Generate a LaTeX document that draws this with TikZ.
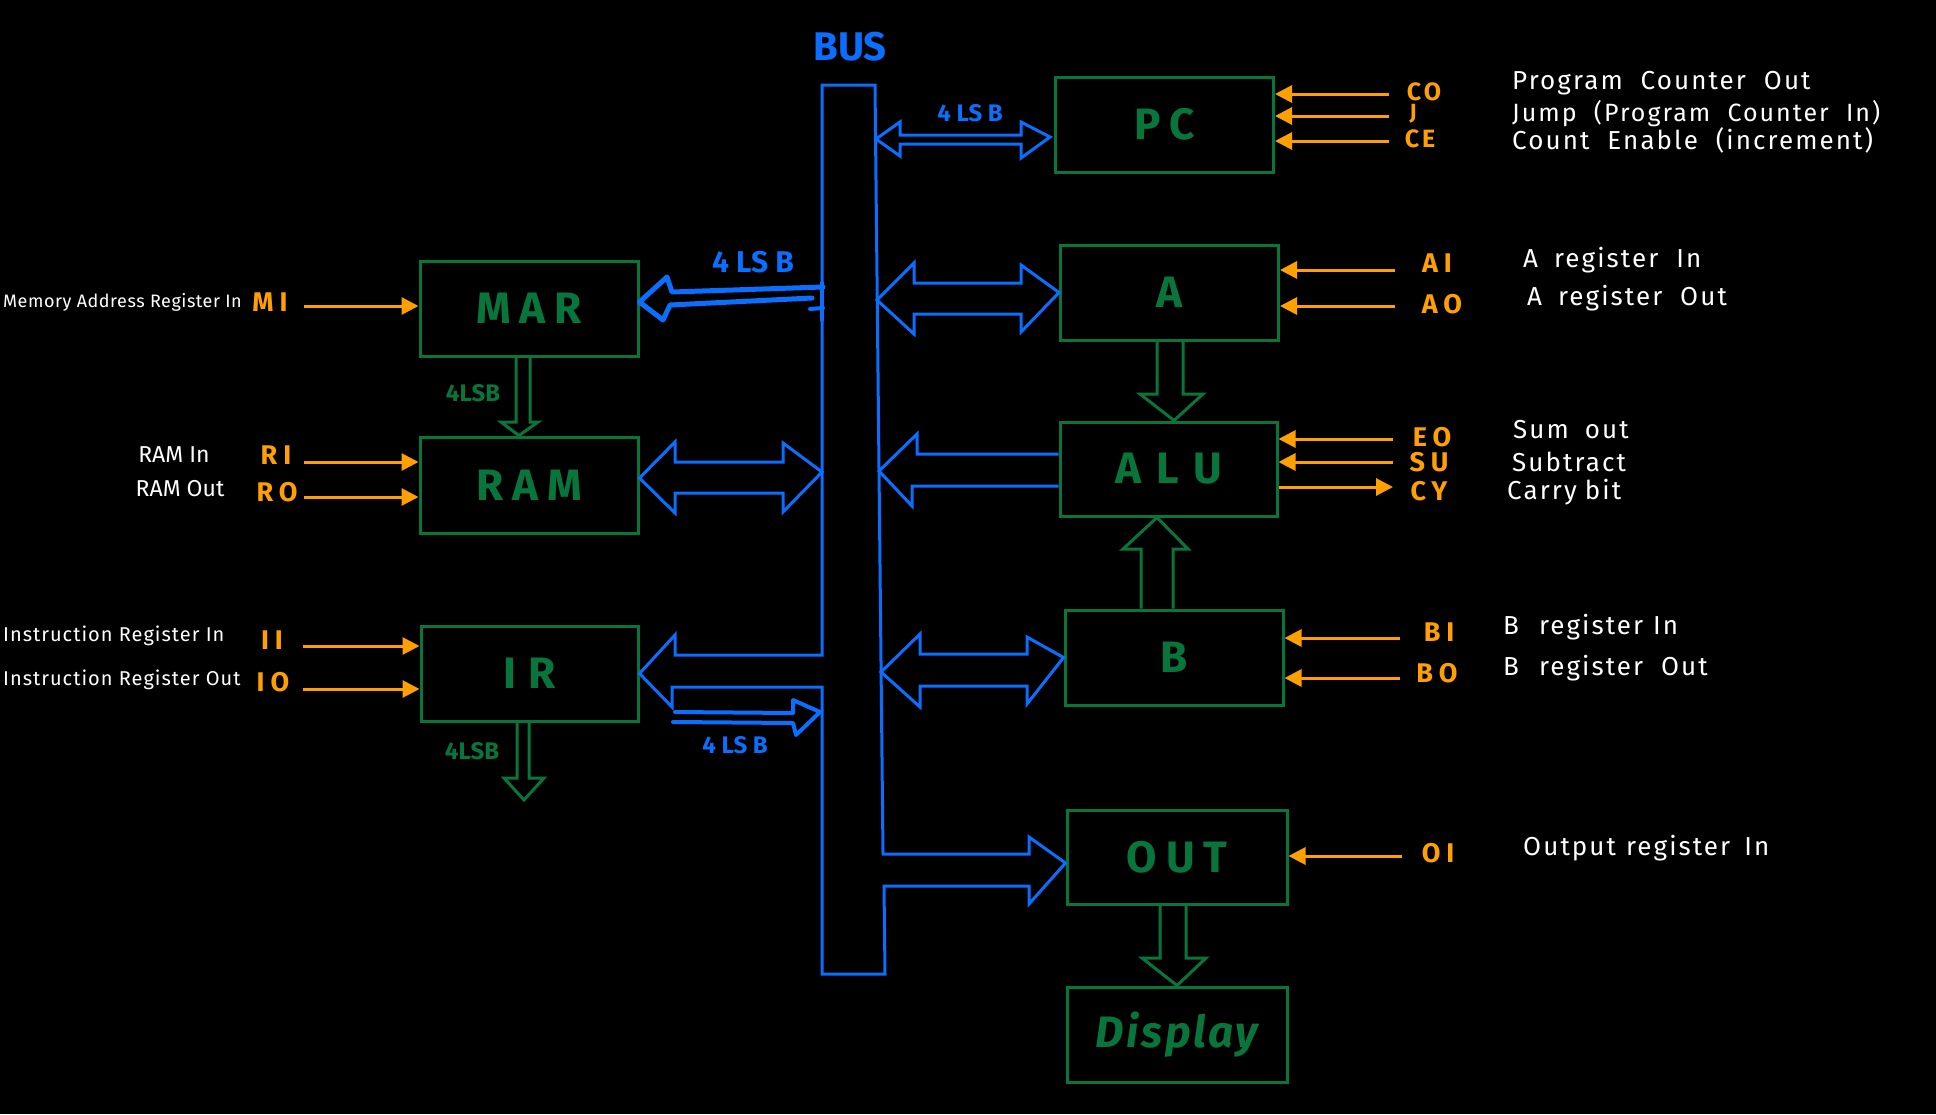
\documentclass[tikz,border=0pt]{standalone}
\usepackage{fontspec}
\setmainfont{Fira Sans}
\newfontfamily\descfont[WordSpace=2,LetterSpace=8]{Fira Sans}
\usetikzlibrary{arrows.meta}
\definecolor{grn}{RGB}{8,118,60}
\definecolor{blu}{RGB}{10,110,255}
\definecolor{org}{RGB}{255,160,0}
\newcommand\fsz[1]{\fontsize{#1}{#1}\selectfont}
\begin{document}
\begin{tikzpicture}[x=1pt,y=-1pt,
  box/.style={draw=grn, line width=3pt, inner sep=0pt, minimum width=218pt, minimum height=95pt,
    text=grn, font={\fsz{44}\bfseries\addfontfeature{LetterSpace=20}}},
  sig/.style={draw=org, line width=3pt, -{Triangle[length=17pt,width=17pt]}},
  sl/.style={text=org, font={\fsz{27}\bfseries\addfontfeature{LetterSpace=22}}, inner sep=0pt},
  ds/.style={text=white, font={\descfont\fsz{26}}, inner sep=0pt, anchor=west},
  bl/.style={text=blu, font={\fsz{24}\bfseries}, inner sep=0pt},
  gl/.style={text=grn, font={\fsz{24}\bfseries}, inner sep=0pt},
  busl/.style={draw=blu, line width=3pt},
  garr/.style={draw=grn, line width=3pt}
]
\fill[black] (0,0) rectangle (1936,1114);
\useasboundingbox (0,0) rectangle (1936,1114);

% boxes
\node[box] (PC) at (1164.5,124.5) {PC};
\node[box] (A) at (1169.5,292.5) {A};
\node[box, minimum width=217pt, minimum height=94pt, font={\fsz{44}\bfseries\addfontfeature{LetterSpace=35}}] (ALU) at (1168.5,469) {ALU};
\node[box] (B) at (1174,657.5) {B};
\node[box, minimum width=220pt, minimum height=94pt] (OUT) at (1177,857) {OUT};
\node[box, minimum width=220pt, font={\fsz{44}\bfseries\itshape\addfontfeature{LetterSpace=6}}] (DISP) at (1177,1034.5) {Display};
\node[box] (MAR) at (529,308.5) {MAR};
\node[box, minimum height=96pt] (RAM) at (529,485) {RAM};
\node[box, minimum width=217pt] (IR) at (529.5,673.5) {I\hspace{12pt}R};

% bus with IR and OUT arrows
\node[text=blu, font={\fsz{40}\bfseries}, inner sep=0pt] (BUS) at (850,47) {BUS};
\draw[busl] (822,655) -- (822,85) -- (875,85) -- (883,854) -- (1029,854) -- (1029,837)
  -- (OUT.west |- 0,863) -- (1029,904) -- (1029,886) -- (884,886) -- (885,974) -- (822,974)
  -- (822,687) -- (672,687) -- (672,707) -- (IR.east) -- (675,635) -- (675,655) -- cycle;

% PC <-> bus (thin)
\draw[busl] (876,139) -- (900,122) -- (900,135) -- (1021,135) -- (1021,122) -- (1050,137)
  -- (1021,158) -- (1021,144) -- (900,144) -- (900,156) -- cycle;
\node[bl] (lsbpc) at (970,113) {4 LS B};
% A <-> bus
\draw[busl] (877,300) -- (914,263) -- (914,283) -- (1021,283) -- (1021,265) -- (A.west)
  -- (1021,332) -- (1021,314) -- (914,314) -- (914,334) -- cycle;
% ALU -> bus
\draw[busl] (ALU.west |- 0,454) -- (917,454) -- (917,434) -- (879,471) -- (912,506) -- (912,486) -- (ALU.west |- 0,486);
% B <-> bus
\draw[busl] (881,672) -- (920,634) -- (920,654) -- (1027,654) -- (1027,637) -- (B.west)
  -- (1027,704) -- (1027,686) -- (920,686) -- (920,707) -- cycle;
% RAM <-> bus
\draw[busl] (RAM.east |- 0,478) -- (675,442) -- (675,462) -- (783,462) -- (783,443) -- (822,472)
  -- (783,512) -- (783,493) -- (675,493) -- (675,513) -- cycle;
% bus -> MAR (4 LS B)
\draw[draw=blu, line width=5pt, line cap=round, line join=round]
  (823,287) -- (672,292) -- (667,277) -- (MAR.east |- 0,302) -- (663,320) -- (670,305) -- (812,298);
\draw[draw=blu, line width=4pt, line cap=round] (810,309) -- (823,308);
\draw[draw=blu, line width=4pt, line cap=round] (822,283) -- (822,320);
\node[bl, font={\fsz{30}\bfseries}] (lsbmar) at (753,262) {4 LS B};
% IR -> bus (4 LS B)
\draw[draw=blu, line width=4pt, line join=round, line cap=round]
  (675,712) -- (793,713) -- (793,700) -- (820,712) -- (796,735) -- (793,723) -- (673,722);
\node[bl] (lsbir) at (735,745) {4 LS B};

% green arrows
\draw[garr] (MAR.south -| 516,0) -- (516,422) -- (501,422) -- (RAM.north -| 519,0) -- (538,422) -- (530,422) -- (MAR.south -| 530,0);
\node[gl] (lsbm) at (473,393) {4LSB};
\draw[garr] (IR.south -| 517,0) -- (517,778) -- (504,778) -- (524,800) -- (544,778) -- (529,778) -- (IR.south -| 529,0);
\node[gl] (lsbi) at (472,751) {4LSB};
\draw[garr] (A.south -| 1157,0) -- (1157,394) -- (1140,394) -- (ALU.north -| 1174,0) -- (1203,394) -- (1183,394) -- (A.south -| 1183,0);
\draw[garr] (B.north -| 1141,0) -- (1141,549) -- (1123,549) -- (ALU.south -| 1157,0) -- (1188,549) -- (1173,549) -- (B.north -| 1173,0);
\draw[garr] (OUT.south -| 1160,0) -- (1160,958) -- (1142,958) -- (DISP.north -| 1177,0) -- (1206,958) -- (1186,958) -- (OUT.south -| 1186,0);

% control signals right
\coordinate (co) at (1389,94);  \coordinate (jj) at (1389,116); \coordinate (ce) at (1389,141);
\draw[sig] (co) -- (co -| PC.east);
\draw[sig] (jj) -- (jj -| PC.east);
\draw[sig] (ce) -- (ce -| PC.east);
\node[sl, font={\fsz{25}\bfseries\addfontfeature{LetterSpace=12}}] (COl) at (1424,92) {CO};
\node[sl, font={\fsz{22}\bfseries}] (Jl) at (1413,114) {J};
\node[sl, font={\fsz{25}\bfseries\addfontfeature{LetterSpace=12}}] (CEl) at (1420,139) {CE};
\node[ds] (dco) at (1512,83) {Program Counter Out};
\node[ds, font={\descfont\fsz{25}}] (dj) at (1512,114) {Jump (Program Counter In)};
\node[ds] (dce) at (1512,140) {Count Enable (increment)};

\coordinate (ai) at (1395,270); \coordinate (ao) at (1395,306);
\draw[sig] (ai) -- (ai -| A.east);
\draw[sig] (ao) -- (ao -| A.east);
\node[sl] (AIl) at (1437,263) {AI};
\node[sl] (AOl) at (1442,304) {AO};
\node[ds] (dai) at (1523,260) {A\hspace{16pt}register\hspace{18pt}In};
\node[ds] (dao) at (1527,298) {A\hspace{16pt}register Out};

\coordinate (eo) at (1393,439); \coordinate (su) at (1393,462); \coordinate (cy) at (1393,487);
\draw[sig] (eo) -- (eo -| ALU.east);
\draw[sig] (su) -- (su -| ALU.east);
\draw[sig] (cy -| ALU.east) -- (cy);
\node[sl] (EOl) at (1432,437) {EO};
\node[sl] (SUl) at (1429,462) {SU};
\node[sl] (CYl) at (1429,491) {CY};
\node[ds] (deo) at (1513,430) {Sum\hspace{16pt}out};
\node[ds] (dsu) at (1512,462) {Subtract};
\node[ds] (dcy) at (1507,492) {Carry\hspace{8pt}bit};

\coordinate (bi) at (1400,638); \coordinate (bo) at (1400,678);
\draw[sig] (bi) -- (bi -| B.east);
\draw[sig] (bo) -- (bo -| B.east);
\node[sl] (BIl) at (1439,632) {BI};
\node[sl] (BOl) at (1437,673) {BO};
\node[ds] (dbi) at (1503,627) {B\hspace{20pt}register\hspace{10pt}In};
\node[ds] (dbo) at (1503,668) {B\hspace{20pt}register Out};

\coordinate (oi) at (1402,856);
\draw[sig] (oi) -- (oi -| OUT.east);
\node[sl] (OIl) at (1438,853) {OI};
\node[ds] (doi) at (1523,848) {Output\hspace{10pt}register\hspace{14pt}In};

% control signals left
\coordinate (mi) at (304,306);
\draw[sig] (mi) -- (mi -| MAR.west);
\node[sl] (MIl) at (270,302) {MI};
\node[ds, font={\fsz{18}\addfontfeature{LetterSpace=3}}] (dmi) at (3,302) {Memory Address Register In};

\coordinate (ri) at (304,462); \coordinate (ro) at (304,497);
\draw[sig] (ri) -- (ri -| RAM.west);
\draw[sig] (ro) -- (ro -| RAM.west);
\node[sl] (RIl) at (276,455) {RI};
\node[sl] (ROl) at (277,492) {RO};
\node[ds, font=\fsz{23}, anchor=center] (dri) at (174,455) {RAM In};
\node[ds, font=\fsz{23}, anchor=center] (dro) at (180,489) {RAM Out};

\coordinate (ii) at (303,646); \coordinate (io) at (303,689);
\draw[sig] (ii) -- (ii -| IR.west);
\draw[sig] (io) -- (io -| IR.west);
\node[sl] (IIl) at (272,640) {II};
\node[sl] (IOl) at (273,682) {IO};
\node[ds, font={\fsz{20}\addfontfeature{LetterSpace=5}}] (dii) at (3,636) {Instruction Register In};
\node[ds, font={\fsz{20}\addfontfeature{LetterSpace=5}}] (dio) at (3,680) {Instruction Register Out};
\end{tikzpicture}
\end{document}
